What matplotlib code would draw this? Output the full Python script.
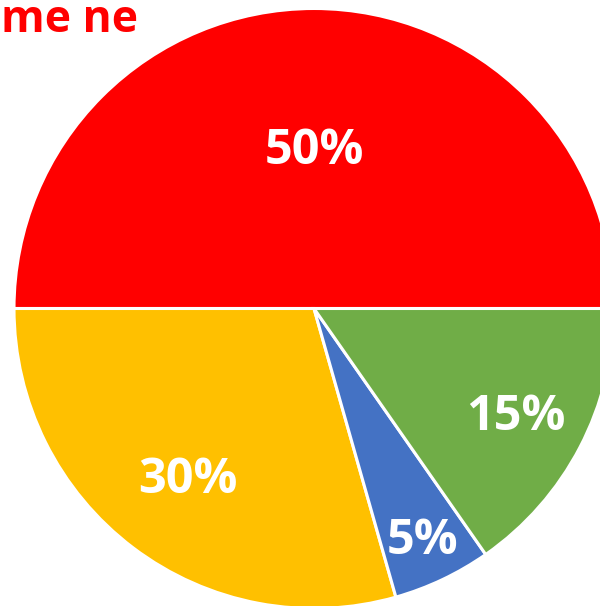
import matplotlib
matplotlib.use("Agg")
import matplotlib.pyplot as plt
import numpy as np

# --- data ---
labels = ["A", "B", "C", "D"]
values = [50, 29.4, 5.3, 15.3]
pct_labels = ["50%", "30%", "5%", "15%"]
colors = ["#FF0000", "#FFC000", "#4472C4", "#70AD47"]
# label distance from centre (fraction of radius), Excel "best fit" look
label_dist = [0.537, 0.70, 0.845, 0.758]
title_text = "me ne"

plt.rcParams['font.family'] = ['Open Sans', 'DejaVu Sans']

W, H = 600, 606
fig = plt.figure(figsize=(W / 100, H / 100), dpi=100, facecolor='white')

cx, cy, r = 314, 308.5, 300
ax = fig.add_axes([(cx - r) / W, (H - cy - r) / H, 2 * r / W, 2 * r / H])

wedges, _ = ax.pie(values, colors=colors, startangle=0, counterclock=True, radius=1,
                   wedgeprops=dict(edgecolor='white', linewidth=2.2))
ax.set_xlim(-1, 1)
ax.set_ylim(-1, 1)
ax.set_aspect('equal')
ax.axis('off')

for w, lab, d in zip(wedges, pct_labels, label_dist):
    ang = np.deg2rad((w.theta1 + w.theta2) / 2)
    ax.annotate(lab, (d * np.cos(ang), d * np.sin(ang)), xytext=(0, -3),
                textcoords='offset points', ha='center', va='center',
                color='white', fontsize=35, fontweight='bold')

fig.text(0.001, 1 - 20 / H, title_text, ha='left', va='center', color='#FF0000',
         fontsize=32, fontweight='bold')

fig.savefig("out.png", dpi=100, facecolor='white')
